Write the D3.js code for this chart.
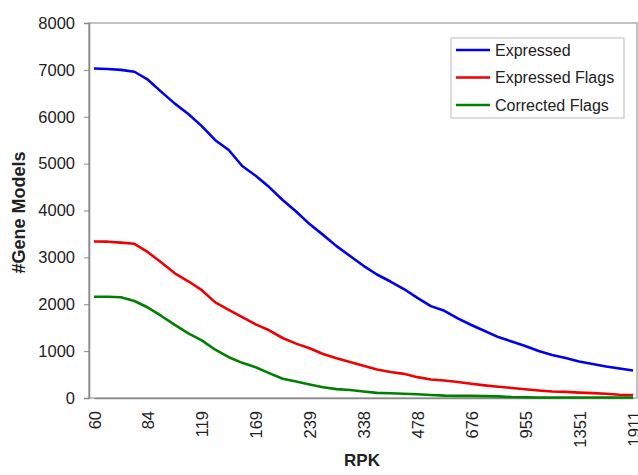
<!DOCTYPE html>
<html>
<head>
<meta charset="utf-8">
<script src="https://cdn.jsdelivr.net/npm/d3@7"></script>
<style>
  body { margin: 0; background: #fff; }
  #root { width: 638px; height: 475px; }
  text { font-family: "Liberation Sans", Arial, sans-serif; fill: #222; }
</style>
</head>
<body>
<div id="root"></div>
<script>
// RPK categories (every 4th one is labelled)
const rpk = [60, 65, 71, 77, 84, 92, 100, 110, 119, 130, 142, 155, 169, 184, 201, 219,
  239, 261, 284, 310, 338, 368, 402, 438, 478, 521, 568, 620, 676, 737, 804, 876,
  955, 1042, 1136, 1239, 1351, 1474, 1607, 1753, 1911];

const tickLabels = [60, 84, 119, 169, 239, 338, 478, 676, 955, 1351, 1911];

const expressed = [7030, 7020, 7000, 6960, 6790, 6530, 6280, 6060, 5800, 5500, 5290,
  4950, 4740, 4500, 4224, 3980, 3710, 3480, 3240, 3030, 2820, 2635, 2485, 2325, 2135,
  1960, 1860, 1700, 1557, 1430, 1300, 1205, 1110, 1003, 917, 853, 780, 725, 672, 629, 587];

const expressedFlags = [3340, 3335, 3315, 3290, 3110, 2890, 2660, 2490, 2300, 2040, 1880,
  1725, 1570, 1445, 1280, 1160, 1060, 940, 850, 770, 690, 610, 555, 515, 445,
  395, 375, 340, 305, 270, 240, 215, 185, 160, 140, 130, 115, 105, 90, 70, 65];

const correctedFlags = [2160, 2160, 2150, 2070, 1930, 1750, 1560, 1380, 1230, 1030, 870,
  750, 655, 530, 410, 350, 290, 230, 190, 170, 140, 110, 100, 90, 80,
  65, 50, 45, 45, 40, 35, 20, 15, 10, 10, 10, 10, 10, 10, 10, 10];

const seriesNames = ['Expressed', 'Expressed Flags', 'Corrected Flags'];
const seriesColors = ['#0000f0', '#f00000', '#008000'];

const yTicks = [0, 1000, 2000, 3000, 4000, 5000, 6000, 7000, 8000];

const series = [expressed, expressedFlags, correctedFlags];

const margin = { left: 89, right: 637, top: 23, bottom: 398 };
const font = '"Liberation Sans", Arial, sans-serif';

const svg = d3.select('#root').append('svg')
  .attr('width', 638)
  .attr('height', 475);

const x = d3.scalePoint()
  .domain(rpk)
  .range([margin.left + 5, margin.right - 4]);

const y = d3.scaleLinear()
  .domain([0, 8000])
  .range([margin.bottom, margin.top]);

// plot area border
svg.append('rect')
  .attr('x', margin.left)
  .attr('y', margin.top)
  .attr('width', margin.right - margin.left)
  .attr('height', margin.bottom - margin.top)
  .attr('fill', 'none')
  .attr('stroke', '#999')
  .attr('stroke-width', 1.2);

// y axis
const yAxis = svg.append('g')
  .attr('transform', 'translate(' + margin.left + ',0)')
  .call(d3.axisLeft(y).tickValues(yTicks).tickSize(5).tickPadding(9).tickFormat(d3.format('d')));
yAxis.select('.domain').attr('stroke', '#888').attr('stroke-width', 1.5);
yAxis.selectAll('.tick line').attr('stroke', '#888');
yAxis.selectAll('.tick text')
  .style('font-size', '16.5px')
  .style('font-family', font)
  .attr('fill', '#222');

// x axis
const xAxis = svg.append('g')
  .attr('transform', 'translate(0,' + margin.bottom + ')')
  .call(d3.axisBottom(x).tickValues(tickLabels).tickSize(0).tickPadding(0));
xAxis.select('.domain').attr('stroke', '#888').attr('stroke-width', 1.5);
xAxis.selectAll('.tick text')
  .style('font-size', '16.5px')
  .style('font-family', font)
  .attr('fill', '#222')
  .attr('text-anchor', 'end')
  .attr('dy', null)
  .attr('y', 0)
  .attr('transform', 'translate(6,13) rotate(-90)');

// lines
const line = d3.line()
  .x((d, i) => x(rpk[i]))
  .y((d) => y(d));

svg.selectAll('.series')
  .data(series)
  .enter()
  .append('path')
    .attr('class', 'series')
    .attr('d', line)
    .attr('fill', 'none')
    .attr('stroke', (d, i) => seriesColors[i])
    .attr('stroke-width', 2.6)
    .attr('stroke-linejoin', 'round');

// axis titles
svg.append('text')
  .attr('x', 362)
  .attr('y', 466)
  .attr('text-anchor', 'middle')
  .style('font-size', '17px')
  .attr('font-weight', 'bold')
  .text('RPK');

svg.append('text')
  .attr('transform', 'translate(25,' + ((margin.top + margin.bottom) / 2 + 2) + ') rotate(-90)')
  .attr('text-anchor', 'middle')
  .style('font-size', '18px')
  .attr('font-weight', 'bold')
  .text('#Gene Models');

// legend
const legend = svg.append('g')
  .attr('transform', 'translate(451,38)');

legend.append('rect')
  .attr('width', 173)
  .attr('height', 80)
  .attr('fill', '#fff')
  .attr('stroke', '#bbb')
  .attr('stroke-width', 1);

const items = legend.selectAll('.item')
  .data(seriesNames)
  .enter()
  .append('g')
    .attr('class', 'item')
    .attr('transform', (d, i) => 'translate(0,' + (12 + i * 27.5) + ')');

items.append('line')
  .attr('x1', 5)
  .attr('x2', 39)
  .attr('stroke', (d, i) => seriesColors[i])
  .attr('stroke-width', 2.6);

items.append('text')
  .attr('x', 44)
  .attr('y', 5.5)
  .style('font-size', '16px')
  .text((d) => d);
</script>
</body>
</html>
